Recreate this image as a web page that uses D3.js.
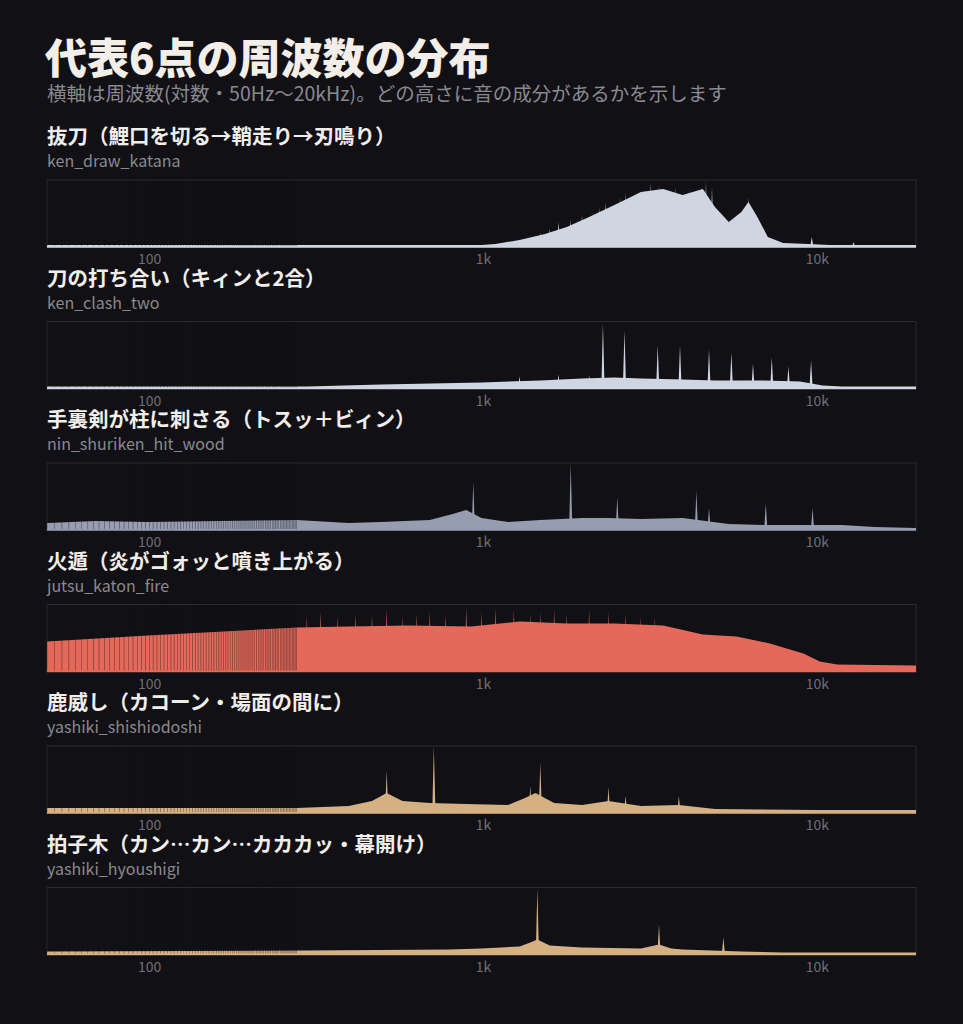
<!DOCTYPE html>
<meta charset="utf-8">
<html>
<head>
<script src="https://d3js.org/d3.v7.min.js"></script>
<style>
body { margin:0; background:#111015; }
text { font-family:"Noto Sans CJK JP","Noto Sans",sans-serif; }
</style>
</head>
<body>
<div id="chart"></div>
<script>
// envelope points (Hz, height in px of a 67px panel) and narrow peaks [Hz, height]
const drawFreq = [50,200,500,800,1000,1100,1300,1550,1800,2100,2500,2800,3000,3500,4000,4600,5000,5500,6000,6300,6700,7200,8000,9500,11000,20000];
const drawAmp  = [2,2,2,2,2,3,7,13,20,30,42,50,55,58,52,58,40,25,35,45,30,10,4,3,2,2];
const drawPeaks = [[1500,14],[1600,18],[1700,25],[1850,27],[2000,32],[2250,40],[2350,45],[2600,50],[2700,55],[3200,65],[3400,62],[3800,60],[4200,58],[4700,66],[4900,60],[6300,50],[6900,18],[9750,10],[13000,5]];

const clashFreq = [50,300,500,1000,1500,2000,2500,3000,4000,5000,7000,9000,10500,12000,20000];
const clashAmp  = [2,2,4,6,8,10,11,10,9,8,8,7,3,2,2];
const clashPeaks = [[2310,65],[2680,58],[3370,43],[3930,43],[4800,39],[5600,36],[6500,25],[7400,31],[8300,22],[9700,28],[1300,12],[1700,14],[2100,13]];

const woodFreq = [50,70,100,280,400,500,700,820,900,1000,1200,1500,2000,2400,3000,4000,5500,7000,8000,12000,15000,20000];
const woodAmp  = [7,9,8,10,7,8,10,16,20,12,8,10,12,12,11,12,6,5,5,5,3,2];
const woodPeaks = [[945,48],[1850,67],[2550,33],[4400,39],[4800,22],[7100,27],[9800,22]];

const fireFreq = [50,100,280,400,600,930,1300,1800,2500,3500,4600,5800,7300,9200,10300,11600,20000];
const fireAmp  = [30,36,44,45,46,45,50,48,48,46,37,35,28,18,10,7,6];
const firePeaks = [[300,55],[330,60],[370,56],[420,58],[470,57],[520,62],[580,55],[640,58],[700,60],[780,57],[900,64],[1000,60],[1100,64],[1250,62],[1400,58],[1500,60],[1650,62],[1800,58],[2100,62],[2400,60],[2700,58],[3000,55],[3300,54]];

const shishiFreq = [50,280,400,470,520,580,700,900,1200,1350,1450,1650,2000,2400,3000,3900,5000,10000,20000];
const shishiAmp  = [5,5,7,12,20,12,10,9,8,15,20,10,8,12,7,8,4,3,3];
const shishiPeaks = [[520,42],[720,66],[1400,27],[1500,50],[2400,26],[2700,17],[3900,17]];

const hyouFreq = [50,300,800,1000,1300,1400,1470,1600,2000,3000,3400,3700,4000,6000,8000,20000];
const hyouAmp  = [3,4,5,6,8,12,15,9,7,6,10,6,5,3,2,2];
const hyouPeaks = [[1470,66],[3400,30],[5300,17]];

const titles = ["抜刀（鯉口を切る→鞘走り→刃鳴り）","刀の打ち合い（キィンと2合）","手裏剣が柱に刺さる（トスッ＋ビィン）","火遁（炎がゴォッと噴き上がる）","鹿威し（カコーン・場面の間に）","拍子木（カン…カン…カカカッ・幕開け）"];
const names = ["ken_draw_katana","ken_clash_two","nin_shuriken_hit_wood","jutsu_katon_fire","yashiki_shishiodoshi","yashiki_hyoushigi"];
const colors = ["#cfd6e2","#cfd6e2","#959daf","#e4695a","#d5b083","#d5b083"];
const tickVals = [100,1000,10000];
const tickLabels = ["100","1k","10k"];

const panels = [
  [drawFreq,drawAmp,drawPeaks],[clashFreq,clashAmp,clashPeaks],[woodFreq,woodAmp,woodPeaks],
  [fireFreq,fireAmp,firePeaks],[shishiFreq,shishiAmp,shishiPeaks],[hyouFreq,hyouAmp,hyouPeaks]
];

const W = 963, H = 1024, left = 47, right = 916, ph = 67;
const svg = d3.select("#chart").append("svg").attr("width",W).attr("height",H)
  .style("background","#111015");

svg.append("text").attr("x",45).attr("y",74).attr("fill","#f3efe8")
  .attr("font-size",42).attr("font-weight",900).text("代表6点の周波数の分布");
svg.append("text").attr("x",47).attr("y",101).attr("fill","#8a898e")
  .attr("font-size",19.5).text("横軸は周波数(対数・50Hz〜20kHz)。どの高さに音の成分があるかを示します");

const x = d3.scaleLog().domain([50,20000]).range([left,right]);
const y = d3.scaleLinear().domain([0,ph]).range([ph,0]);

panels.forEach(function(p,i) {
  const top = 180 + i*141.5;
  const g = svg.append("g").attr("transform","translate(0,"+top+")");
  g.append("text").attr("x",47).attr("y",-36).attr("fill","#f1eee9")
    .attr("font-size",20.5).attr("font-weight",700).text(titles[i]);
  g.append("text").attr("x",47).attr("y",-13).attr("fill","#8a898e")
    .attr("font-size",16).text(names[i]);
  g.append("rect").attr("x",left).attr("y",0).attr("width",right-left).attr("height",ph)
    .attr("fill","none").attr("stroke","#2c2b31");

  const pts = p[0].map(function(f,k){ return [f,p[1][k]]; });
  const area = d3.area().x(function(d){return x(d[0]);}).y0(y(0)).y1(function(d){return y(d[1]);});
  g.append("path").datum(pts).attr("d",area).attr("fill",colors[i]);

  g.selectAll(".pk").data(p[2]).enter().append("path")
    .attr("d",function(d){ const cx=x(d[0]); return "M"+(cx-1.6)+","+ph+"L"+cx+","+y(d[1])+"L"+(cx+1.6)+","+ph+"Z"; })
    .attr("fill",colors[i]);

  // bin gaps in the sparse low-frequency region
  const gaps = d3.range(50,280,2.7);
  g.selectAll(".gap").data(gaps).enter().append("line")
    .attr("x1",function(d){return x(d);}).attr("x2",function(d){return x(d);})
    .attr("y1",0).attr("y2",ph-1).attr("stroke","#111015").attr("stroke-width",0.5)
    .attr("opacity",0.7);

  g.append("line").attr("x1",left).attr("x2",right).attr("y1",ph).attr("y2",ph)
    .attr("stroke",colors[i]).attr("stroke-width",1.5);

  g.selectAll(".tk").data(tickVals).enter().append("text")
    .attr("x",function(d){return x(d)+2;}).attr("y",ph+17).attr("text-anchor","middle")
    .attr("fill","#6f6e74").attr("font-size",14)
    .text(function(d,k){return tickLabels[k];});
});
</script>
</body>
</html>
